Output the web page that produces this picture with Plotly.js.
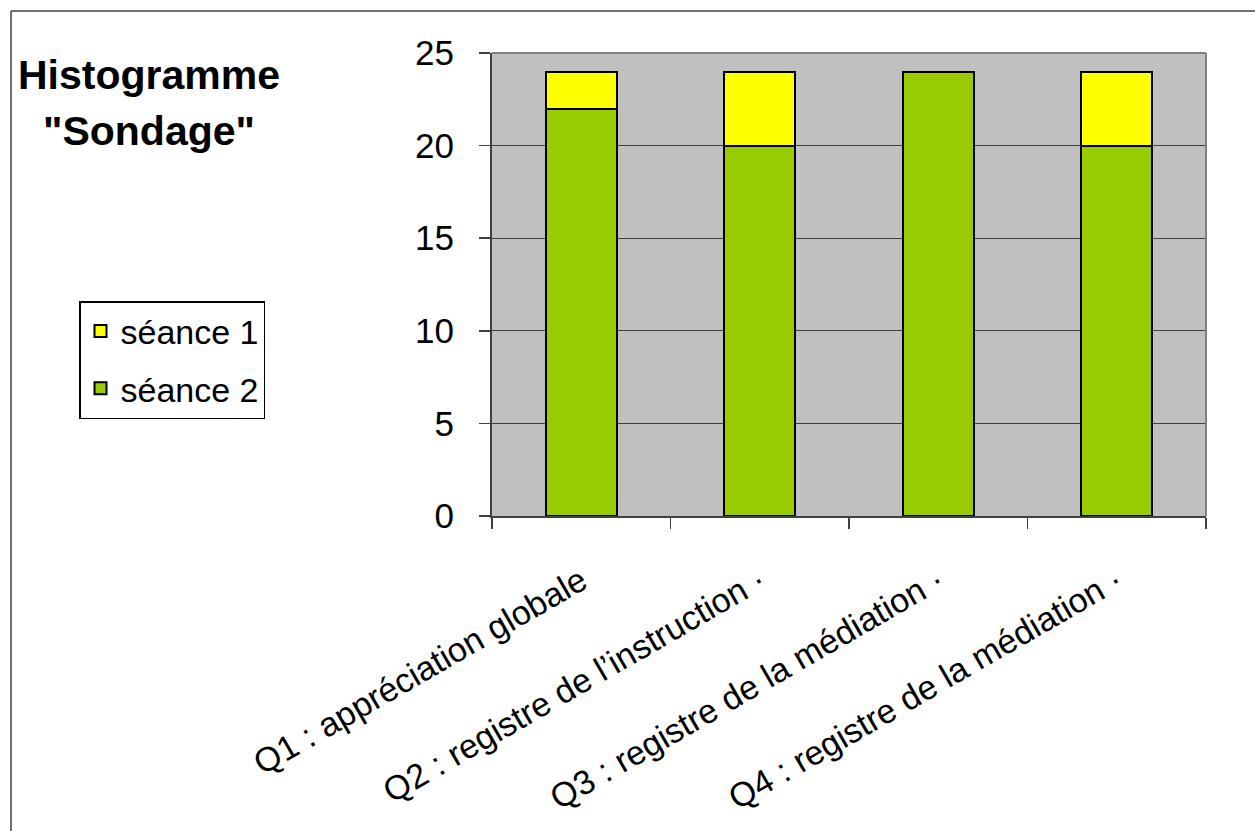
<!DOCTYPE html>
<html>
<head>
<meta charset="utf-8">
<script src="https://cdn.plot.ly/plotly-3.0.1.min.js"></script>
<style>
html,body{margin:0;padding:0;background:#fff;}
#chart{width:1255px;height:831px;}
</style>
</head>
<body>
<div id="chart"></div>
<script>
const categories = [
  "Q1 : appréciation globale",
  "Q2 : registre de l’instruction ·",
  "Q3 : registre de la médiation ·",
  "Q4 : registre de la médiation ·"
];
const seance2 = [22, 20, 24, 20];
const seance1 = [2, 4, 0, 4];
const yTicks = [0, 5, 10, 15, 20, 25];
const titleLines = ["Histogramme", "\"Sondage\""];

const FONT = "Arial, 'Liberation Sans', sans-serif";
const W = 1255, H = 831;
const mL = 492, mR = 49, mT = 53, mB = 315;
const pw = W - mL - mR, ph = H - mT - mB;
const px = v => (v - mL) / pw;
const py = v => (H - mB - v) / ph;

const traces = [
  {type: 'bar', name: 'séance 2', x: categories, y: seance2, legendgroup: 'g2', legendrank: 2,
   marker: {color: '#99CC00', line: {color: '#000000', width: 2}}},
  {type: 'bar', name: 'séance 1', x: categories, y: seance1, legendgroup: 'g1', legendrank: 1,
   marker: {color: '#FFFF00', line: {color: '#000000', width: 2}}}
];

const layout = {
  width: W, height: H,
  margin: {l: mL, r: mR, t: mT, b: mB, pad: 0},
  paper_bgcolor: '#FFFFFF',
  plot_bgcolor: '#C0C0C0',
  barmode: 'stack',
  bargap: 0.6,
  font: {family: FONT, color: '#000000'},
  showlegend: true,
  legend: {
    x: px(79), y: py(301), xanchor: 'left', yanchor: 'top',
    bgcolor: '#FFFFFF', bordercolor: '#000000', borderwidth: 1.5,
    font: {family: FONT, size: 34, color: '#000000'},
    traceorder: 'grouped', tracegroupgap: 10
  },
  xaxis: {
    type: 'category',
    tickangle: -30,
    tickson: 'boundaries',
    ticks: 'outside', ticklen: 11, tickwidth: 1.5, tickcolor: '#404040',
    showline: true, linecolor: '#404040', linewidth: 2,
    showgrid: false, zeroline: false,
    tickfont: {family: FONT, size: 34, color: '#000000'},
    ticklabelstandoff: 30,
    automargin: false
  },
  yaxis: {
    range: [0, 25],
    tickmode: 'array', tickvals: yTicks, ticktext: yTicks.map(String),
    ticks: 'outside', ticklen: 11, tickwidth: 1.5, tickcolor: '#404040',
    showline: true, linecolor: '#404040', linewidth: 2,
    showgrid: true, gridcolor: '#404040', gridwidth: 1,
    zeroline: false,
    tickfont: {family: FONT, size: 35, color: '#000000'},
    ticklabelstandoff: 18,
    automargin: false
  },
  shapes: [
    {type: 'line', xref: 'paper', yref: 'paper', x0: 0, x1: 1, y0: 1, y1: 1,
     line: {color: '#808080', width: 2}, layer: 'above'},
    {type: 'line', xref: 'paper', yref: 'paper', x0: 1, x1: 1, y0: 0, y1: 1,
     line: {color: '#808080', width: 2}, layer: 'above'},
    {type: 'line', xref: 'paper', yref: 'paper', x0: px(11), x1: px(1300), y0: py(11), y1: py(11),
     line: {color: '#404040', width: 1.5}},
    {type: 'line', xref: 'paper', yref: 'paper', x0: px(11), x1: px(11), y0: py(11), y1: py(900),
     line: {color: '#404040', width: 1.5}}
  ],
  annotations: [
    {text: '<b>' + titleLines[0] + '</b>', xref: 'paper', yref: 'paper',
     x: px(149), y: py(75), xanchor: 'center', yanchor: 'middle', showarrow: false,
     font: {family: FONT, size: 41, color: '#000000'}},
    {text: '<b>' + titleLines[1] + '</b>', xref: 'paper', yref: 'paper',
     x: px(149), y: py(131), xanchor: 'center', yanchor: 'middle', showarrow: false,
     font: {family: FONT, size: 41, color: '#000000'}}
  ]
};

Plotly.newPlot('chart', traces, layout, {displayModeBar: false, staticPlot: true});
</script>
</body>
</html>
